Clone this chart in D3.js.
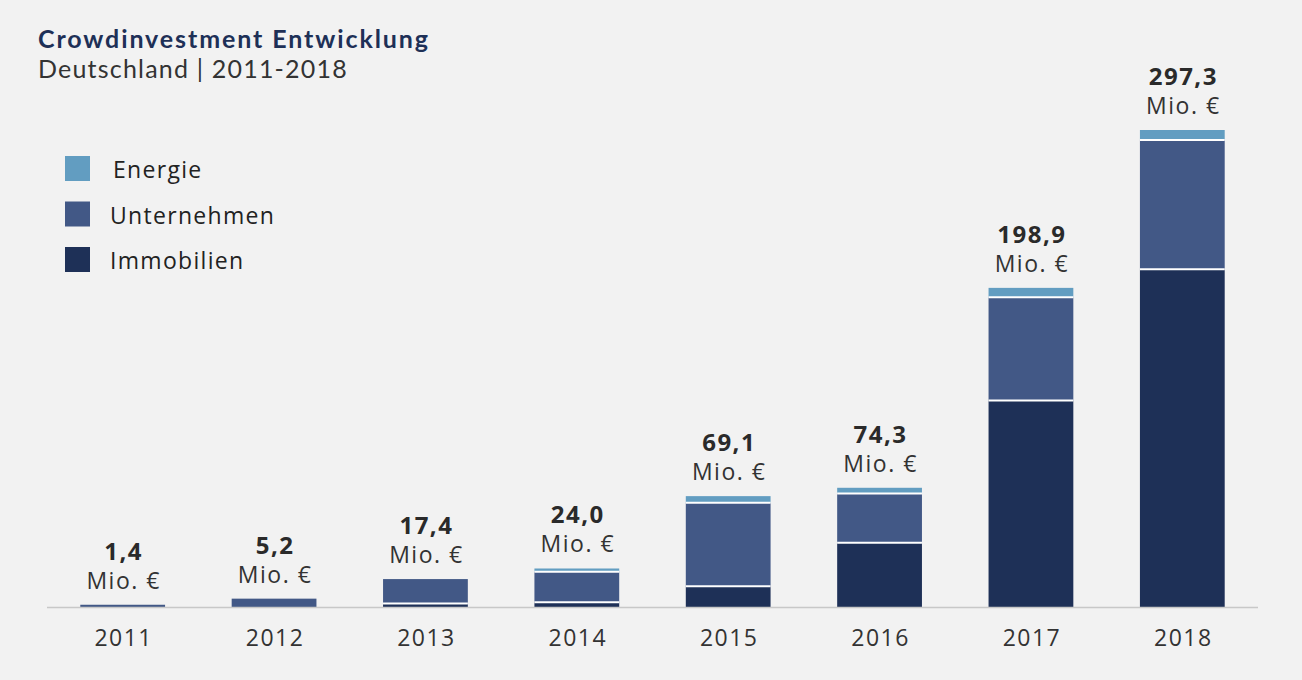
<!DOCTYPE html>
<html>
<head>
<meta charset="utf-8">
<script src="https://cdn.jsdelivr.net/npm/d3@7"></script>
<style>
	html, body { margin: 0; padding: 0; background: #f2f2f2; }
	svg { display: block; font-family: "Open Sans", sans-serif; }
	.title { font-family: Lato, sans-serif; font-size: 25px; font-weight: 700; fill: #1e3057; letter-spacing: 1.9px; }
	.subtitle { font-family: Lato, sans-serif; font-size: 25px; fill: #333; letter-spacing: 1.2px; }
	.legend-labels { font-size: 23px; fill: #222; letter-spacing: 1.3px; }
	.value-total { font-size: 24px; font-weight: 700; fill: #2a2a2a; letter-spacing: 1.5px; }
	.value-unit { font-size: 23px; fill: #333; letter-spacing: 1.5px; }
	.year { font-size: 23px; fill: #333; letter-spacing: 1.5px; }
</style>
</head>
<body>
<svg id="chart" width="1302" height="680"></svg>
<script>
(function () {
	// data
	var years = ["2011", "2012", "2013", "2014", "2015", "2016", "2017", "2018"];
	var immobilien = [0, 0, 2.2, 3.0, 13.0, 40.0, 128.7, 210.5];
	var unternehmen = [1.4, 5.2, 15.2, 19.0, 52.0, 30.8, 64.3, 80.6];
	var energie = [0, 0, 0, 2.0, 4.1, 3.5, 5.9, 6.2];
	var seriesKeys = ["immobilien", "unternehmen", "energie"];
	var legend = ["Energie", "Unternehmen", "Immobilien"];

	var colors = { immobilien: "#1e3057", unternehmen: "#425886", energie: "#629dc1" };
	var legendColors = ["#629dc1", "#425886", "#1e3057"];

	var svg = d3.select("#chart");
	var rows = years.map(function (y, i) {
		return { year: y, immobilien: immobilien[i], unternehmen: unternehmen[i], energie: energie[i] };
	});
	var stacked = d3.stack().keys(seriesKeys)(rows);

	var x = d3.scaleBand().domain(years).range([47, 1258]).paddingInner(0.44).paddingOuter(0.22);
	var y = d3.scaleLinear().domain([0, 297.3]).range([607, 130]);
	var fmt = d3.format(".1f");

	drawTitle();
	drawLegend();
	drawBars();
	drawAxis();
	drawTotals();

	function drawTitle() {
		svg.append("text").attr("class", "title").attr("x", 38).attr("y", 47.5).text("Crowdinvestment Entwicklung");
		svg.append("text").attr("class", "subtitle").attr("x", 38).attr("y", 78).text("Deutschland | 2011-2018");
	}
	function drawLegend() {
		var g = svg.selectAll(".legend").data(legend).enter().append("g").attr("class", "legend");
		g.append("rect")
			.attr("x", 65)
			.attr("y", function (d, i) { return 156 + 45.5 * i })
			.attr("width", 25)
			.attr("height", 25)
			.style("fill", function (d, i) { return legendColors[i] });
		g.append("text")
			.attr("class", "legend-labels")
			.attr("x", function (d, i) { return i === 0 ? 113 : 110 })
			.attr("y", function (d, i) { return 178 + 45.5 * i })
			.text(function (d) { return d });
	}
	function drawBars() {
		var layers = svg.selectAll(".layer").data(stacked).enter().append("g")
			.attr("class", "layer")
			.style("fill", function (d) { return colors[d.key] });
		layers.selectAll("rect").data(function (d) { return d }).enter().append("rect")
			.attr("x", function (d) { return x(d.data.year) })
			.attr("y", function (d) { return y(d[1]) })
			.attr("width", x.bandwidth())
			.attr("height", function (d) { return Math.max(0, y(d[0]) - y(d[1])) });
		// white separators between stacked segments
		layers.selectAll("line").data(function (d) {
			return d.filter(function (e) { return e[0] > 0 && e[1] - e[0] > 0 });
		}).enter().append("line")
			.attr("x1", function (d) { return x(d.data.year) })
			.attr("x2", function (d) { return x(d.data.year) + x.bandwidth() })
			.attr("y1", function (d) { return y(d[0]) })
			.attr("y2", function (d) { return y(d[0]) })
			.style("stroke", "#fff")
			.style("stroke-width", 2);
	}
	function drawAxis() {
		svg.append("line")
			.attr("x1", 47).attr("x2", 1258)
			.attr("y1", y(0) + 0.5).attr("y2", y(0) + 0.5)
			.style("stroke", "#c8c8c8").style("stroke-width", 1.5);
		var axis = d3.axisBottom(x).tickSize(0).tickPadding(0);
		var g = svg.append("g").attr("transform", "translate(0,646)").call(axis);
		g.select(".domain").remove();
		g.selectAll("text").attr("class", "year").attr("dy", 0).attr("dx", 1);
		g.attr("font-size", null).attr("font-family", null);
	}
	function drawTotals() {
		var totals = rows.map(function (d) { return d.immobilien + d.unternehmen + d.energie });
		svg.selectAll(".value-total").data(totals).enter().append("text")
			.attr("class", "value-total")
			.attr("x", function (d, i) { return x(years[i]) + x.bandwidth() / 2 + 1 })
			.attr("y", function (d) { return y(d) - 45 })
			.attr("text-anchor", "middle")
			.text(function (d) { return fmt(d).replace(".", ",") });
		svg.selectAll(".value-unit").data(totals).enter().append("text")
			.attr("class", "value-unit")
			.attr("x", function (d, i) { return x(years[i]) + x.bandwidth() / 2 + 1 })
			.attr("y", function (d) { return y(d) - 16 })
			.attr("text-anchor", "middle")
			.text("Mio. €");
	}
})();
</script>
</body>
</html>
